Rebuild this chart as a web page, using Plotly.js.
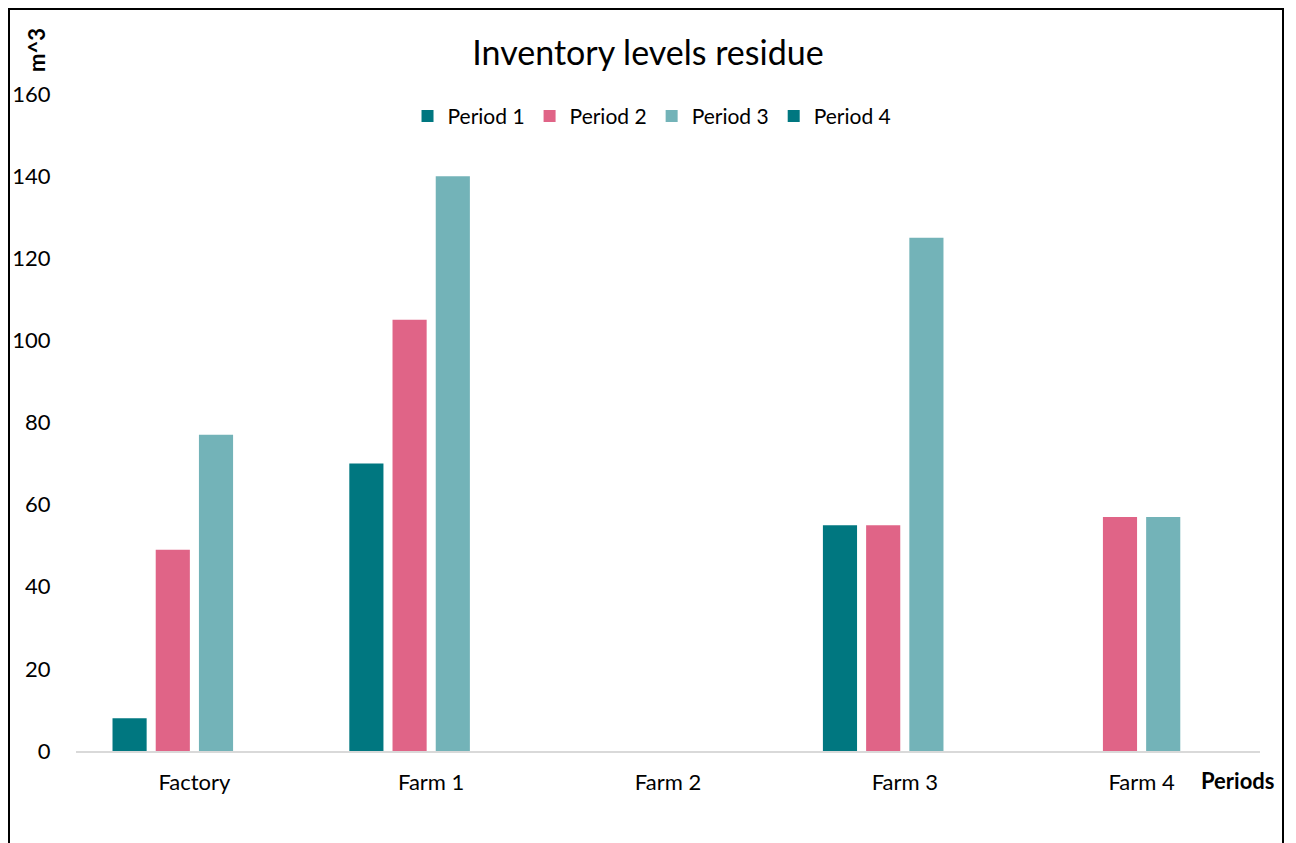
<!DOCTYPE html>
<html>
<head>
<meta charset="utf-8">
<script src="https://cdn.plot.ly/plotly-3.0.1.min.js"></script>
<style>
  html, body { margin: 0; padding: 0; background: #fff; }
  #wrap { position: relative; width: 1296px; height: 843px; }
  #chart { position: absolute; left: 0; top: 0; width: 1296px; height: 843px; }
  #frame { position: absolute; left: 8px; top: 8px; width: 1276px; height: 850px;
           border: 2px solid #000; box-sizing: border-box; pointer-events: none; }
</style>
</head>
<body>
<div id="wrap">
  <div id="chart"></div>
  <div id="frame"></div>
</div>
<script>
const categories = ["Factory", "Farm 1", "Farm 2", "Farm 3", "Farm 4"];
const seriesNames = ["Period 1", "Period 2", "Period 3", "Period 4"];
const period1 = [8, 70, 0, 55, 0];
const period2 = [49, 105, 0, 55, 57];
const period3 = [77, 140, 0, 125, 57];
const period4 = [0, 0, 0, 0, 0];
const yTicks = [0, 20, 40, 60, 80, 100, 120, 140, 160];

const colors = ["#007780", "#E06487", "#73B3B8", "#007780"];
const allSeries = [period1, period2, period3, period4];
const FONT = "Lato, 'Open Sans', sans-serif";

const traces = allSeries.map((vals, i) => ({
  type: "bar",
  name: seriesNames[i],
  x: categories,
  y: vals,
  marker: { color: colors[i] },
  hoverinfo: "x+y+name"
}));

const layout = {
  width: 1296,
  height: 843,
  paper_bgcolor: "#fff",
  plot_bgcolor: "#fff",
  font: { family: FONT, size: 21, color: "#000" },
  margin: { l: 76, r: 36, t: 94, b: 92, pad: 0 },
  barmode: "group",
  bargap: 0.27,
  bargroupgap: 0.21,
  title: {
    text: "Inventory levels residue",
    font: { family: FONT, size: 34, color: "#000" },
    x: 0.5, xref: "container", xanchor: "center",
    y: 0.937, yref: "container", yanchor: "middle"
  },
  showlegend: true,
  legend: {
    orientation: "h",
    x: 0.4865, xanchor: "center",
    y: 0.997, yanchor: "top",
    font: { family: FONT, size: 21, color: "#000" },
    bgcolor: "rgba(0,0,0,0)",
    itemwidth: 30,
    traceorder: "normal"
  },
  xaxis: {
    type: "category",
    tickvals: categories,
    ticktext: categories,
    showgrid: false,
    zeroline: false,
    showline: true,
    linecolor: "#D9D9D9",
    linewidth: 2,
    ticks: "outside",
    ticklen: 11,
    tickcolor: "rgba(0,0,0,0)",
    tickfont: { family: FONT, size: 22, color: "#000" },
    fixedrange: true
  },
  yaxis: {
    range: [0, 160],
    tickvals: yTicks,
    ticktext: yTicks.map(String),
    showgrid: false,
    zeroline: false,
    showline: false,
    ticks: "outside",
    ticklen: 20,
    tickcolor: "rgba(0,0,0,0)",
    tickfont: { family: FONT, size: 22, color: "#000" },
    fixedrange: true
  },
  annotations: [
    {
      text: "<b>m^3</b>",
      xref: "paper", yref: "paper",
      x: -0.033, y: 1.067,
      xanchor: "center", yanchor: "middle",
      textangle: -90,
      showarrow: false,
      font: { family: FONT, size: 22, color: "#000" }
    },
    {
      text: "<b>Periods</b>",
      xref: "paper", yref: "paper",
      x: 0.981, y: -0.045,
      xanchor: "center", yanchor: "middle",
      showarrow: false,
      font: { family: FONT, size: 22, color: "#000" }
    }
  ]
};

Plotly.newPlot("chart", traces, layout, { displayModeBar: false, staticPlot: false });
</script>
</body>
</html>
